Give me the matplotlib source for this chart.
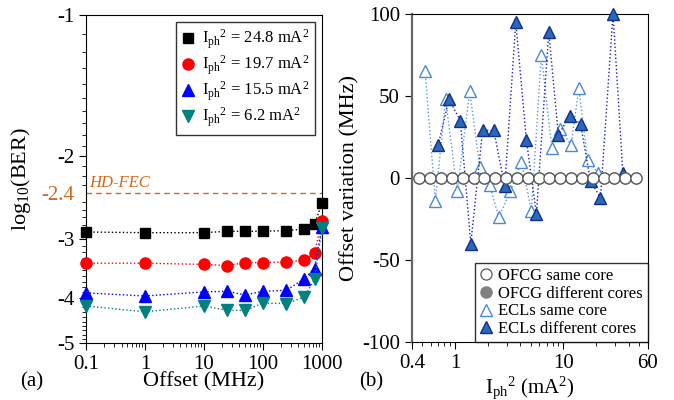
import numpy as np
import matplotlib
matplotlib.use('Agg')
import matplotlib.pyplot as plt
from matplotlib.ticker import FixedLocator, NullFormatter, NullLocator

plt.rcParams['font.family'] = ['Liberation Serif', 'DejaVu Serif']
plt.rcParams['mathtext.fontset'] = 'custom'
plt.rcParams['mathtext.rm'] = 'Liberation Serif'
plt.rcParams['mathtext.it'] = 'Liberation Serif:italic'
plt.rcParams['mathtext.bf'] = 'Liberation Serif:bold'
plt.rcParams['axes.unicode_minus'] = False

# (a) log10(BER) vs frequency offset
offset_mhz = [0.1, 1, 10, 25, 50, 100, 250, 500, 750, 1000]
ber_248 = [-2.90, -2.91, -2.91, -2.89, -2.89, -2.89, -2.88, -2.86, -2.79, -2.52]
ber_197 = [-3.38, -3.38, -3.40, -3.42, -3.37, -3.37, -3.36, -3.33, -3.21, -2.75]
ber_155 = [-3.91, -3.97, -3.89, -3.88, -3.95, -3.88, -3.86, -3.65, -3.47, -2.83]
ber_62 = [-4.17, -4.29, -4.17, -4.26, -4.26, -4.11, -4.12, -3.99, -3.66, -2.85]
hd_fec = -2.4

# (b) offset variation vs photocurrent squared
ofcg_x = [0.47, 0.59, 0.74, 0.94, 1.18, 1.49, 1.87, 2.36, 2.96, 3.73, 4.7,
          5.9, 7.4, 9.4, 11.8, 14.9, 18.7, 23.6, 29.6, 37.3, 47]
ofcg_same = [0, 0, 0, 0, 0, 0, 0, 0, 0, 0, 0, 0, 0, 0, 0, 0, 0, 0, 0, 0, 0]
ofcg_diff = [0, 0, 0, 0, 0, 0, 0, 0, 0, 0, 0, 0, 0, 0, 0, 0, 0, 0, 0, 0, 0]
ecl_same_x = [0.53, 0.66, 0.82, 1.05, 1.37, 1.69, 2.09, 2.54, 3.25, 4.1, 5.07,
              6.27, 7.84, 9.37, 11.8, 13.9, 16.7, 21]
ecl_same_y = [65, -14, 48, -8, 53, 7, -4, -24, -8, 10, -20, 75, 18, 30, 20, 55, 11, 3]
ecl_diff_x = [0.70, 0.88, 1.12, 1.40, 1.80, 2.28, 2.88, 3.64, 4.56, 5.64, 7.33,
              9.0, 11.4, 14.4, 17.8, 22, 28.7, 35.4]
ecl_diff_y = [20, 48, 35, -40, 29, 29, -5, 95, 23, -22, 89, 26, 38, 33, -2, -12, 100, 3]

fig = plt.figure(figsize=(6.74, 4.0), dpi=100)
ax1 = fig.add_axes([0.1276, 0.1425, 0.350, 0.82])
ax2 = fig.add_axes([0.611, 0.145, 0.350, 0.82])

orange = '#d2691e'
series = [
    (ber_248, 's', 'black', r'$\mathrm{{I_{ph}}^{2}}$ = 24.8 mA$^2$', 7),
    (ber_197, 'o', 'red', r'$\mathrm{{I_{ph}}^{2}}$ = 19.7 mA$^2$', 8),
    (ber_155, '^', 'blue', r'$\mathrm{{I_{ph}}^{2}}$ = 15.5 mA$^2$', 8),
    (ber_62, 'v', '#008080', r'$\mathrm{{I_{ph}}^{2}}$ = 6.2 mA$^2$', 8),
]
for vals, mk, col, lab, ms in series:
    # y axis is log of -log10(BER), labelled with the log10 value
    ax1.plot(offset_mhz, -np.array(vals), ls=':', lw=1, color=col, marker=mk,
             ms=ms, mec=col, mfc=col, label=lab, clip_on=False, zorder=3)

ax1.axhline(-hd_fec, color=orange, ls='--', lw=1, dashes=(4, 3))
ax1.text(0.115, 2.33, 'HD-FEC', color=orange, fontsize=12, style='italic')

ax1.set_xscale('log')
ax1.set_yscale('log')
ax1.set_xlim(0.1, 1000)
ax1.set_ylim(5, 1)
ax1.set_xticks([0.1, 1, 10, 100, 1000])
ax1.set_xticklabels(['0.1', '1', '10', '100', '1000'])
ax1.yaxis.set_major_locator(FixedLocator([1, 2, 2.4, 3, 4, 5]))
ax1.set_yticklabels(['-1', '-2', '-2.4', '-3', '-4', '-5'])
ax1.get_yticklabels()[2].set_color(orange)
ax1.yaxis.set_minor_locator(FixedLocator(np.arange(1.1, 5.0, 0.1)))
ax1.yaxis.set_minor_formatter(NullFormatter())
ax1.tick_params(which='major', direction='out', length=5, labelsize=15)
ax1.tick_params(which='minor', direction='out', length=3)
ax1.yaxis.get_major_ticks()[2].tick1line.set_visible(False)
ax1.set_xlabel('Offset (MHz)', fontsize=16, labelpad=-1)
ax1.set_ylabel(r'log$_{10}$(BER)', fontsize=16, labelpad=6)
leg1 = ax1.legend(loc='upper right', bbox_to_anchor=(0.97, 0.979), borderaxespad=0,
                  fontsize=12, frameon=True, fancybox=False, edgecolor='black',
                  handlelength=0.8, handletextpad=0.4, labelspacing=0.15,
                  borderpad=0.35)
leg1.get_frame().set_linewidth(1)
for h in leg1.get_lines():
    h.set_linestyle('none')

# (b)
ax2.plot(ofcg_x, ofcg_diff, ls='none', marker='o', ms=8, mfc='#808080', mec='#808080',
         label='OFCG different cores', zorder=2)
ax2.plot(ofcg_x, ofcg_same, ls='none', marker='o', ms=8, mfc='white', mec='#555555',
         mew=0.9, label='OFCG same core', zorder=5, clip_on=False)
ax2.plot(ecl_same_x, ecl_same_y, ls=':', lw=1, color='#5b9bd5', marker='^', ms=8,
         mfc='white', mec='#4a8ad0', mew=1, label='ECLs same core', zorder=3, clip_on=False)
ax2.plot(ecl_diff_x, ecl_diff_y, ls=':', lw=1, color='#1a1acc', marker='^', ms=8,
         mfc='#2c68b8', mec='#10308f', mew=1, label='ECLs different cores', zorder=4,
         clip_on=False)

ax2.set_xscale('log')
ax2.set_xlim(0.4, 60)
ax2.set_ylim(-100, 100)
ax2.set_xticks([0.4, 1, 10, 60])
ax2.set_xticklabels(['0.4', '1', '10', '60'])
ax2.set_yticks([-100, -50, 0, 50, 100])
ax2.yaxis.set_minor_locator(NullLocator())
ax2.tick_params(which='major', direction='out', length=5, labelsize=15)
ax2.tick_params(which='minor', direction='out', length=3)
ax2.spines['left'].set_color('#666666')
ax2.spines['left'].set_linewidth(1.6)
ax2.set_xlabel(r'$\mathrm{{I_{ph}}^{2}}$ (mA$^2$)', fontsize=15, labelpad=1)
ax2.set_ylabel('Offset variation (MHz)', fontsize=16, labelpad=2)

h, l = ax2.get_legend_handles_labels()
order = [1, 0, 2, 3]
leg2 = ax2.legend([h[i] for i in order], [l[i] for i in order], loc='lower right',
                  bbox_to_anchor=(1, 0), borderaxespad=0, fontsize=12, frameon=True,
                  fancybox=False, edgecolor='black', handlelength=0.8,
                  handletextpad=0.3, labelspacing=0.1, borderpad=0.3)
leg2.get_frame().set_linewidth(1)
for ln in leg2.get_lines():
    ln.set_linestyle('none')

fig.text(0.03, 0.035, '(a)', fontsize=15)
fig.text(0.533, 0.035, '(b)', fontsize=15)

fig.savefig('out.png', dpi=100)
